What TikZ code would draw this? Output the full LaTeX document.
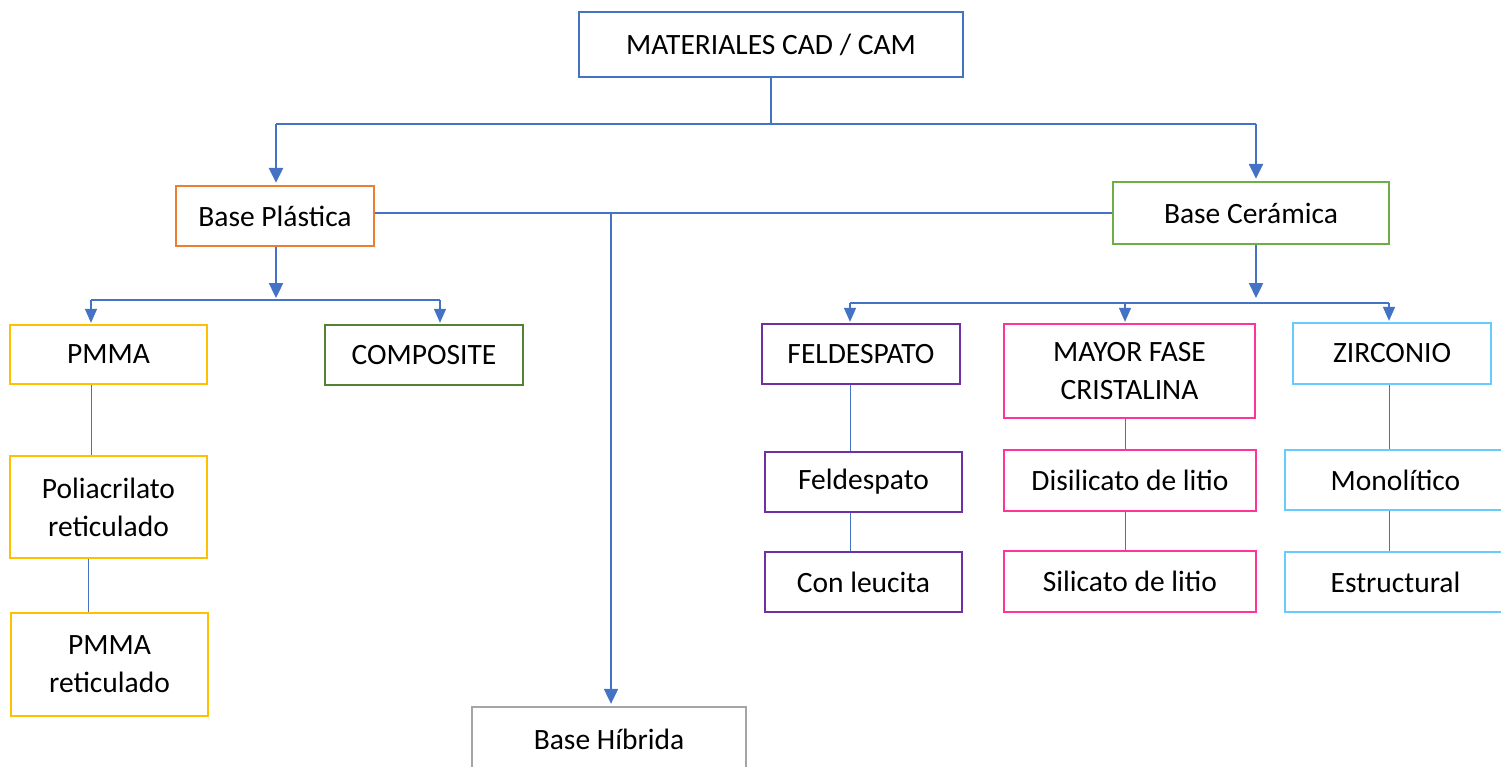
\documentclass[tikz,border=0pt]{standalone}
\usepackage{fontspec}
\setmainfont{Carlito}
\usetikzlibrary{arrows.meta}
\definecolor{lnblue}{HTML}{4472C4}
\definecolor{corange}{HTML}{ED7D31}
\definecolor{cgreen}{HTML}{70AD47}
\definecolor{cgray}{HTML}{A5A5A5}
\definecolor{cgold}{HTML}{FFC000}
\definecolor{cdkgreen}{HTML}{548235}
\definecolor{cpurple}{HTML}{7030A0}
\definecolor{cpink}{HTML}{FF3399}
\definecolor{clblue}{HTML}{66CCFF}
\tikzset{
  box/.style={draw=#1, line width=2.3pt, fill=white, align=center, inner sep=0pt,
    font=\fontsize{29.5}{38}\selectfont},
  thinl/.style={draw=lnblue, line width=1.4pt},
  arrbig/.style={draw=lnblue, fill=lnblue, line width=2.4pt, -{Triangle[width=14pt,length=15pt]}, shorten >=2pt},
  arrsmall/.style={draw=lnblue, fill=lnblue, line width=1.4pt, -{Triangle[width=12pt,length=14pt]}, shorten >=1pt},
}
\begin{document}
\begin{tikzpicture}[x=1pt,y=-1pt]
\useasboundingbox (0,0) rectangle (1501,767);
\clip (0,0) rectangle (1501,767);
% nodes
\node[box=lnblue, minimum width=384, minimum height=65] (top) at (771,44.5) {MATERIALES CAD / CAM};
\node[box=corange, minimum width=198, minimum height=60] (bp) at (275,216) {Base Plástica};
\node[box=cgreen, minimum width=276, minimum height=62] (bc) at (1251,213) {Base Cerámica};
\node[box=cgray, minimum width=274, minimum height=64] (bh) at (609,739) {Base Híbrida};
\node[box=cgold, minimum width=197, minimum height=59] (pmma) at (108.5,354.5) {PMMA};
\node[box=cdkgreen, minimum width=198, minimum height=60] (comp) at (424,355) {COMPOSITE};
\node[box=cgold, minimum width=197, minimum height=102] (poli) at (108.5,507) {Poliacrilato\\reticulado};
\node[box=cgold, minimum width=197, minimum height=103] (pmmar) at (109.5,664.5) {PMMA\\reticulado};
\node[box=cpurple, minimum width=198, minimum height=60] (feld) at (861,354) {FELDESPATO};
\node[box=cpurple, minimum width=197, minimum height=60] (feld2) at (863.5,482) {Feldespato};
\node[box=cpurple, minimum width=197, minimum height=60] (leuc) at (863.5,582) {Con leucita};
\node[box=cpink, minimum width=251, minimum height=94] (mayor) at (1129.5,371) {MAYOR FASE\\CRISTALINA};
\node[box=cpink, minimum width=252, minimum height=61] (disil) at (1130,480.5) {Disilicato de litio};
\node[box=cpink, minimum width=252, minimum height=61] (silic) at (1130,581.5) {Silicato de litio};
\node[box=clblue, minimum width=198, minimum height=61] (zirc) at (1392,353.5) {ZIRCONIO};
\node[box=clblue, minimum width=221, minimum height=60] (mono) at (1395.5,480) {Monolítico};
\node[box=clblue, minimum width=221, minimum height=60] (estr) at (1395.5,582) {Estructural};
% level coordinates
\coordinate (y1) at (0,124);
\coordinate (y2) at (0,300);
\coordinate (y3) at (0,303);
\coordinate (xbp) at (276,0);
\coordinate (xbc) at (1256,0);
\coordinate (xpm) at (91,0);
\coordinate (xpm2) at (88,0);
\coordinate (xco) at (440,0);
\coordinate (xfe) at (850,0);
\coordinate (xma) at (1125,0);
\coordinate (xzi) at (1389,0);
\coordinate (xhy) at (611,0);
% top connectors
\draw[thinl] (top.south) -- (top.south |- y1);
\draw[thinl] (xbp |- y1) -- (xbc |- y1);
\draw[arrbig] (xbp |- y1) -- (xbp |- bp.north);
\draw[arrbig] (xbc |- y1) -- (xbc |- bc.north);
% plastic - ceramic link and hybrid
\draw[thinl] (bp.east |- bc.west) -- (bc.west);
\draw[arrbig, line width=2pt] (xhy |- bc.west) -- (xhy |- bh.north);
% plastic children
\draw[arrbig] (xbp |- bp.south) -- (xbp |- y2);
\draw[thinl] (xpm |- y2) -- (xco |- y2);
\draw[arrsmall] (xpm |- y2) -- (xpm |- pmma.north);
\draw[arrsmall] (xco |- y2) -- (xco |- comp.north);
\draw[thinl, line width=1pt] (xpm |- pmma.south) -- (xpm |- poli.north);
\draw[thinl, line width=1pt] (xpm2 |- poli.south) -- (xpm2 |- pmmar.north);
% ceramic children
\draw[arrbig] (xbc |- bc.south) -- (xbc |- y2);
\draw[thinl] (xfe |- y3) -- (xzi |- y3);
\draw[arrsmall] (xfe |- y3) -- (xfe |- feld.north);
\draw[arrsmall] (xma |- y3) -- (xma |- mayor.north);
\draw[arrsmall] (xzi |- y3) -- (xzi |- zirc.north);
\draw[thinl, line width=1pt] (xfe |- feld.south) -- (xfe |- feld2.north);
\draw[thinl, line width=1pt] (xfe |- feld2.south) -- (xfe |- leuc.north);
\draw[thinl, line width=1pt] (xma |- mayor.south) -- (xma |- disil.north);
\draw[thinl, line width=1pt] (xma |- disil.south) -- (xma |- silic.north);
\draw[thinl, line width=1pt] (xzi |- zirc.south) -- (xzi |- mono.north);
\draw[thinl, line width=1pt] (xzi |- mono.south) -- (xzi |- estr.north);
\end{tikzpicture}
\end{document}
